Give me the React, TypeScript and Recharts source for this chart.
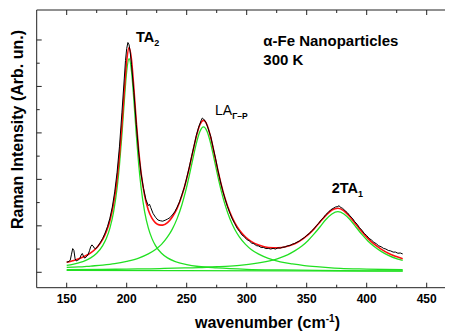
import React from 'react';
import { LineChart, Line, XAxis, YAxis } from 'recharts';

const FONT = '"Liberation Sans", Arial, Helvetica, sans-serif';

// ---- tick values ----
const xTicks = [150, 175, 200, 225, 250, 275, 300, 325, 350, 375, 400, 425, 450];
const xTickLabels = [150, 200, 250, 300, 350, 400, 450];
const yTicks = [0, 1, 2, 3, 4, 5, 6, 7, 8, 9, 10];
const yMajorTicks = [0, 2, 4, 6, 8, 10];

// ---- measured Raman spectrum (black) ----
const measuredX = [
  150, 151, 152, 153, 154, 155, 156, 157, 158, 159,
  160, 161, 162, 163, 164, 165, 166, 167, 168, 169,
  170, 171, 172, 173, 174, 176, 178, 180, 182, 184,
  186, 188, 190, 192, 194, 196, 198, 199, 200, 201,
  202, 203, 204, 206, 208, 210, 212, 214, 216, 218,
  219, 220, 222, 224, 226, 228, 230, 232, 234, 236,
  238, 240, 242, 244, 246, 248, 250, 252, 254, 256,
  258, 260, 262, 263, 264, 266, 268, 270, 272, 274,
  276, 278, 280, 282, 284, 286, 288, 290, 292, 294,
  296, 298, 300, 302, 304, 306, 308, 310, 312, 314,
  316, 318, 320, 322, 324, 326, 328, 330, 332, 334,
  336, 338, 340, 342, 344, 346, 348, 350, 352, 354,
  356, 358, 360, 362, 364, 366, 368, 370, 372, 374,
  376, 377, 378, 380, 382, 384, 386, 388, 390, 392,
  394, 396, 398, 400, 402, 404, 406, 408, 410, 412,
  414, 416, 418, 420, 422, 424, 426, 428, 430,
];
const measuredY = [
  0.44, 0.45, 0.47, 0.53, 0.78, 1.02, 0.94, 0.58, 0.49, 0.51,
  0.54, 0.60, 0.74, 0.81, 0.69, 0.61, 0.65, 0.70, 0.79, 0.93,
  1.10, 1.18, 1.13, 1.04, 1.01, 1.12, 1.28, 1.46, 1.69, 1.97,
  2.33, 2.81, 3.46, 4.31, 5.43, 6.86, 8.36, 9.12, 9.63, 9.89,
  9.79, 9.44, 8.94, 7.74, 6.36, 5.14, 4.23, 3.61, 3.13, 2.87,
  2.93, 2.79, 2.53, 2.37, 2.25, 2.22, 2.20, 2.24, 2.29, 2.35,
  2.47, 2.60, 2.80, 3.03, 3.34, 3.65, 4.06, 4.49, 4.97, 5.42,
  5.89, 6.25, 6.53, 6.64, 6.60, 6.46, 6.17, 5.85, 5.37, 4.91,
  4.39, 3.93, 3.51, 3.16, 2.83, 2.55, 2.30, 2.10, 1.90, 1.76,
  1.61, 1.53, 1.41, 1.36, 1.26, 1.23, 1.15, 1.13, 1.07, 1.07,
  1.02, 1.03, 1.00, 1.03, 1.00, 1.05, 1.04, 1.08, 1.09, 1.14,
  1.15, 1.21, 1.24, 1.30, 1.35, 1.43, 1.49, 1.59, 1.66, 1.78,
  1.87, 2.00, 2.11, 2.25, 2.35, 2.49, 2.58, 2.69, 2.75, 2.81,
  2.83, 2.87, 2.80, 2.75, 2.65, 2.56, 2.43, 2.33, 2.18, 2.07,
  1.92, 1.81, 1.67, 1.58, 1.46, 1.39, 1.29, 1.23, 1.14, 1.10,
  1.03, 1.00, 0.94, 0.92, 0.87, 0.87, 0.82, 0.83, 0.79,
];

// ---- total fit (red) ----
const fitX = [
  150, 155, 160, 165, 170, 175, 180, 183, 186, 189,
  192, 194, 196, 198, 200, 202, 204, 206, 208, 210,
  212, 215, 218, 221, 224, 227, 230, 234, 238, 242,
  246, 249, 252, 255, 258, 261, 264, 267, 270, 273,
  276, 279, 282, 286, 290, 294, 299, 304, 310, 318,
  326, 334, 340, 346, 351, 356, 361, 366, 371, 376,
  381, 386, 391, 396, 401, 406, 412, 418, 424, 430,
];
const fitY = [
  0.43, 0.50, 0.58, 0.69, 0.84, 1.06, 1.42, 1.75, 2.22, 2.93,
  4.01, 5.03, 6.32, 7.80, 9.10, 9.67, 9.15, 7.90, 6.47, 5.23,
  4.27, 3.29, 2.68, 2.33, 2.13, 2.04, 2.03, 2.14, 2.38, 2.75,
  3.30, 3.83, 4.46, 5.16, 5.84, 6.35, 6.54, 6.34, 5.81, 5.11,
  4.39, 3.73, 3.17, 2.58, 2.14, 1.81, 1.52, 1.32, 1.17, 1.06,
  1.05, 1.12, 1.23, 1.41, 1.61, 1.86, 2.16, 2.45, 2.68, 2.76,
  2.65, 2.39, 2.07, 1.75, 1.46, 1.22, 1.00, 0.82, 0.69, 0.58,
];

// ---- fitted components (green) ----
const ta2X = [
  150, 155, 160, 165, 170, 175, 180, 183, 186, 189,
  192, 194, 196, 198, 200, 202, 204, 206, 208, 210,
  212, 215, 218, 221, 224, 229, 234, 240, 250, 260,
  275, 300, 330, 360, 400, 430,
];
const ta2Y = [
  0.30, 0.34, 0.41, 0.49, 0.62, 0.82, 1.15, 1.45, 1.90, 2.58,
  3.63, 4.63, 5.91, 7.37, 8.66, 9.20, 8.66, 7.38, 5.92, 4.64,
  3.64, 2.59, 1.91, 1.46, 1.15, 0.82, 0.62, 0.47, 0.33, 0.25,
  0.19, 0.13, 0.10, 0.08, 0.065, 0.06,
];
const laX = [
  150, 160, 170, 180, 190, 200, 210, 218, 224, 229,
  234, 238, 242, 246, 249, 252, 255, 258, 261, 264,
  267, 270, 273, 276, 279, 282, 286, 290, 294, 299,
  304, 310, 318, 328, 338, 348, 358, 368, 378, 400,
  430,
];
const laY = [
  0.21, 0.23, 0.27, 0.31, 0.37, 0.47, 0.61, 0.79, 0.98, 1.20,
  1.52, 1.86, 2.31, 2.91, 3.47, 4.13, 4.85, 5.54, 6.06, 6.26,
  6.06, 5.54, 4.84, 4.12, 3.46, 2.90, 2.30, 1.85, 1.51, 1.20,
  0.97, 0.78, 0.60, 0.45, 0.36, 0.29, 0.24, 0.20, 0.17, 0.14,
  0.11,
];
const ta1X = [
  150, 180, 200, 220, 240, 260, 276, 286, 296, 306,
  316, 326, 334, 340, 346, 351, 356, 361, 366, 371,
  376, 381, 386, 391, 396, 401, 406, 412, 418, 426,
  430,
];
const ta1Y = [
  0.11, 0.12, 0.14, 0.15, 0.18, 0.20, 0.24, 0.27, 0.31, 0.37,
  0.46, 0.59, 0.75, 0.92, 1.13, 1.36, 1.64, 1.95, 2.27, 2.51,
  2.61, 2.51, 2.27, 1.95, 1.63, 1.35, 1.12, 0.90, 0.73, 0.57,
  0.51,
];
const baseX = [150, 430];
const baseY = [0.08, 0.05];

const zip = (xs: number[], ys: number[]) => xs.map((x, i) => ({ x, y: ys[i] }));

const measured = zip(measuredX, measuredY);
const fit = zip(fitX, fitY);
const ta2 = zip(ta2X, ta2Y);
const la = zip(laX, laY);
const ta1 = zip(ta1X, ta1Y);
const base = zip(baseX, baseY);

const AX = '#222';
const GREEN = '#22e022';

const BottomTick = (p: any) => {
  const v = p.payload.value;
  const major = xTickLabels.includes(v);
  return (
    <g>
      <line x1={p.x} x2={p.x} y1={p.y} y2={p.y - (major ? 5 : 3)} stroke={AX} strokeWidth={1} />
      {major && (
        <text x={p.x} y={p.y + 15} textAnchor="middle" fontFamily={FONT} fontWeight="bold" fontSize={12} fill="#000">
          {v}
        </text>
      )}
    </g>
  );
};
const TopTick = (p: any) => {
  const major = xTickLabels.includes(p.payload.value);
  return <line x1={p.x} x2={p.x} y1={p.y} y2={p.y + (major ? 5 : 3)} stroke={AX} strokeWidth={1} />;
};
const LeftTick = (p: any) => {
  const major = yMajorTicks.includes(p.payload.value);
  return <line x1={p.x} x2={p.x + (major ? 5 : 3)} y1={p.y} y2={p.y} stroke={AX} strokeWidth={1} />;
};
const RightTick = (p: any) => {
  const major = yMajorTicks.includes(p.payload.value);
  return <line x1={p.x} x2={p.x - (major ? 5 : 3)} y1={p.y} y2={p.y} stroke={AX} strokeWidth={1} />;
};

const X_DOMAIN: [number, number] = [125, 475];
const Y_DOMAIN: [number, number] = [-0.663, 11.29];

export default function App() {
  const axisLine = { stroke: AX, strokeWidth: 1 };
  return (
    <div style={{ position: 'relative', width: 445, height: 325 }}>
      <div style={{ width: 445, height: 325, overflow: 'hidden' }}>
        <LineChart width={460} height={325} margin={{ top: 1, right: 10.3, bottom: 44.3, left: 27.7 }}>
          <XAxis xAxisId="b" type="number" dataKey="x" domain={X_DOMAIN} allowDataOverflow ticks={xTicks} interval={0}
            height={1} tickSize={0} tickMargin={0} tickLine={false} axisLine={axisLine} tick={BottomTick} />
          <XAxis xAxisId="t" orientation="top" type="number" dataKey="x" domain={X_DOMAIN} allowDataOverflow ticks={xTicks} interval={0}
            height={1} tickSize={0} tickMargin={0} tickLine={false} axisLine={axisLine} tick={TopTick} />
          <YAxis yAxisId="l" type="number" domain={Y_DOMAIN} allowDataOverflow ticks={yTicks} interval={0}
            width={1} tickSize={0} tickMargin={0} tickLine={false} axisLine={axisLine} tick={LeftTick} />
          <YAxis yAxisId="r" orientation="right" type="number" domain={Y_DOMAIN} allowDataOverflow ticks={yTicks} interval={0}
            width={1} tickSize={0} tickMargin={0} tickLine={false} axisLine={axisLine} tick={RightTick} />
          <Line xAxisId="b" yAxisId="l" data={base} dataKey="y" type="linear" stroke={GREEN} strokeWidth={1.3} dot={false} activeDot={false} isAnimationActive={false} />
          <Line xAxisId="b" yAxisId="l" data={ta1} dataKey="y" type="monotone" stroke={GREEN} strokeWidth={1.3} dot={false} activeDot={false} isAnimationActive={false} />
          <Line xAxisId="b" yAxisId="l" data={la} dataKey="y" type="monotone" stroke={GREEN} strokeWidth={1.3} dot={false} activeDot={false} isAnimationActive={false} />
          <Line xAxisId="b" yAxisId="l" data={ta2} dataKey="y" type="monotone" stroke={GREEN} strokeWidth={1.3} dot={false} activeDot={false} isAnimationActive={false} />
          <Line xAxisId="b" yAxisId="l" data={fit} dataKey="y" type="monotone" stroke="#ff1010" strokeWidth={1.6} dot={false} activeDot={false} isAnimationActive={false} />
          <Line xAxisId="b" yAxisId="l" data={measured} dataKey="y" type="linear" stroke="#000" strokeWidth={1} dot={false} activeDot={false} isAnimationActive={false} />
        </LineChart>
      </div>
      <svg width={453} height={333} style={{ position: 'absolute', left: -8, top: -8, pointerEvents: 'none' }}>
        <g fontFamily={FONT} fill="#000">
          <text x={16} y={4} fontSize={20} fontWeight="bold">c</text>
          <text x={136} y={41.7} fontSize={14.5} fontWeight="bold">
            TA<tspan fontSize={9} dy={4}>2</tspan>
          </text>
          <text x={215} y={115} fontSize={14}>
            LA<tspan fontSize={8.5} fontWeight="bold" dy={4}>Γ–P</tspan>
          </text>
          <text x={331.7} y={193.3} fontSize={14.5} fontWeight="bold">
            2TA<tspan fontSize={9} dy={4}>1</tspan>
          </text>
          <text x={263.3} y={45.5} fontSize={15} fontWeight="bold">α-Fe Nanoparticles</text>
          <text x={263.3} y={65} fontSize={15} fontWeight="bold">300 K</text>
          <text x={23} y={129.5} fontSize={16} fontWeight="bold" textAnchor="middle" transform="rotate(-90 23 129.5)">
            Raman Intensity (Arb. un.)
          </text>
          <text x={267.5} y={328} fontSize={16} fontWeight="bold" textAnchor="middle">
            wavenumber (cm<tspan fontSize={10} dy={-6}>-1</tspan><tspan dy={6}>)</tspan>
          </text>
        </g>
      </svg>
    </div>
  );
}
